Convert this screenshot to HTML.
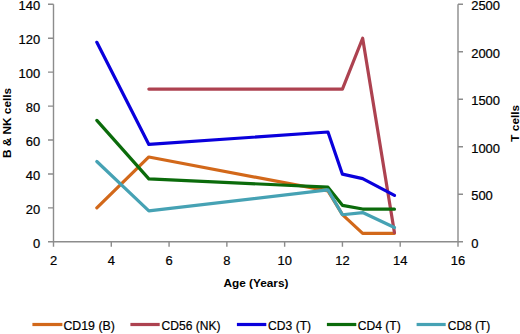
<!DOCTYPE html>
<html><head><meta charset="utf-8"><style>
html,body{margin:0;padding:0;background:#fff;}
body{width:520px;height:334px;overflow:hidden;}
svg{display:block;}
.t{font-family:"Liberation Sans",sans-serif;font-size:12.0px;fill:#000;stroke:#000;stroke-width:0.2px;}
.l{font-family:"Liberation Sans",sans-serif;font-size:12.4px;fill:#000;stroke:#000;stroke-width:0.2px;}
.b{font-family:"Liberation Sans",sans-serif;font-size:11.8px;font-weight:bold;fill:#000;}
</style></head><body>
<svg width="520" height="334" viewBox="0 0 520 334">
<path d="M53.5,4.3 V241.8 M458.0,4.3 V241.8 M53.0,241.8 H458.5" stroke="#8c8c8c" stroke-width="1.4" fill="none"/>
<path d="M48.0,241.80 H53.5 M48.0,207.87 H53.5 M48.0,173.94 H53.5 M48.0,140.01 H53.5 M48.0,106.09 H53.5 M48.0,72.16 H53.5 M48.0,38.23 H53.5 M48.0,4.30 H53.5 M458.0,241.80 H463.0 M458.0,194.30 H463.0 M458.0,146.80 H463.0 M458.0,99.30 H463.0 M458.0,51.80 H463.0 M458.0,4.30 H463.0 M53.50,241.8 V246.8 M111.29,241.8 V246.8 M169.07,241.8 V246.8 M226.86,241.8 V246.8 M284.64,241.8 V246.8 M342.43,241.8 V246.8 M400.21,241.8 V246.8 M458.00,241.8 V246.8" stroke="#8c8c8c" stroke-width="1.4" fill="none"/>
<text transform="translate(40.2,247.60) scale(1.08,1)" text-anchor="end" class="t">0</text>
<text transform="translate(40.2,213.67) scale(1.08,1)" text-anchor="end" class="t">20</text>
<text transform="translate(40.2,179.74) scale(1.08,1)" text-anchor="end" class="t">40</text>
<text transform="translate(40.2,145.81) scale(1.08,1)" text-anchor="end" class="t">60</text>
<text transform="translate(40.2,111.89) scale(1.08,1)" text-anchor="end" class="t">80</text>
<text transform="translate(40.2,77.96) scale(1.08,1)" text-anchor="end" class="t">100</text>
<text transform="translate(40.2,44.03) scale(1.08,1)" text-anchor="end" class="t">120</text>
<text transform="translate(40.2,10.10) scale(1.08,1)" text-anchor="end" class="t">140</text>
<text transform="translate(471.2,247.60) scale(1.08,1)" class="t">0</text>
<text transform="translate(471.2,200.10) scale(1.08,1)" class="t">500</text>
<text transform="translate(471.2,152.60) scale(1.08,1)" class="t">1000</text>
<text transform="translate(471.2,105.10) scale(1.08,1)" class="t">1500</text>
<text transform="translate(471.2,57.60) scale(1.08,1)" class="t">2000</text>
<text transform="translate(471.2,10.10) scale(1.08,1)" class="t">2500</text>
<text transform="translate(53.50,264.8) scale(1.08,1)" text-anchor="middle" class="t">2</text>
<text transform="translate(111.29,264.8) scale(1.08,1)" text-anchor="middle" class="t">4</text>
<text transform="translate(169.07,264.8) scale(1.08,1)" text-anchor="middle" class="t">6</text>
<text transform="translate(226.86,264.8) scale(1.08,1)" text-anchor="middle" class="t">8</text>
<text transform="translate(284.64,264.8) scale(1.08,1)" text-anchor="middle" class="t">10</text>
<text transform="translate(342.43,264.8) scale(1.08,1)" text-anchor="middle" class="t">12</text>
<text transform="translate(400.21,264.8) scale(1.08,1)" text-anchor="middle" class="t">14</text>
<text transform="translate(458.00,264.8) scale(1.08,1)" text-anchor="middle" class="t">16</text>
<text x="256" y="287" text-anchor="middle" class="b">Age (Years)</text>
<text transform="translate(11.3,123) rotate(-90)" text-anchor="middle" class="b">B &amp; NK cells</text>
<text transform="translate(518.5,123.3) rotate(-90)" text-anchor="middle" class="b">T cells</text>
<path d="M96.84,207.87 L148.85,156.98 L327.98,190.91 L342.43,214.66 L362.65,233.32 L394.44,233.32" stroke="#D2681A" stroke-width="3.2" fill="none" stroke-linejoin="round" stroke-linecap="round"/>
<path d="M148.85,89.12 L342.43,89.12 L362.65,38.23 L394.44,232.47" stroke="#AD4250" stroke-width="3.2" fill="none" stroke-linejoin="round" stroke-linecap="round"/>
<path d="M96.84,42.30 L148.85,144.43 L327.98,131.98 L342.43,174.16 L362.65,178.62 L394.44,195.44" stroke="#0A00DC" stroke-width="3.2" fill="none" stroke-linejoin="round" stroke-linecap="round"/>
<path d="M96.84,120.39 L148.85,178.91 L327.98,187.18 L342.43,205.32 L362.65,209.03 L394.44,209.22" stroke="#0B6B0B" stroke-width="3.2" fill="none" stroke-linejoin="round" stroke-linecap="round"/>
<path d="M96.84,161.53 L148.85,210.93 L327.98,189.84 L342.43,214.73 L362.65,212.54 L394.44,227.55" stroke="#46A2B4" stroke-width="3.2" fill="none" stroke-linejoin="round" stroke-linecap="round"/>
<path d="M32.4,324.5 H62.4" stroke="#D2681A" stroke-width="3.2" fill="none"/>
<text x="63.4" y="330.3" class="l" textLength="51.5" lengthAdjust="spacingAndGlyphs">CD19 (B)</text>
<path d="M130.4,324.5 H159.7" stroke="#AD4250" stroke-width="3.2" fill="none"/>
<text x="161.6" y="330.3" class="l" textLength="59.0" lengthAdjust="spacingAndGlyphs">CD56 (NK)</text>
<path d="M236.9,324.5 H266.3" stroke="#0A00DC" stroke-width="3.2" fill="none"/>
<text x="268.1" y="330.3" class="l" textLength="43.0" lengthAdjust="spacingAndGlyphs">CD3 (T)</text>
<path d="M326.9,324.5 H356.3" stroke="#0B6B0B" stroke-width="3.2" fill="none"/>
<text x="357.7" y="330.3" class="l" textLength="43.0" lengthAdjust="spacingAndGlyphs">CD4 (T)</text>
<path d="M416.6,324.5 H445.7" stroke="#46A2B4" stroke-width="3.2" fill="none"/>
<text x="447.8" y="330.3" class="l" textLength="42.5" lengthAdjust="spacingAndGlyphs">CD8 (T)</text>
</svg>
</body></html>
